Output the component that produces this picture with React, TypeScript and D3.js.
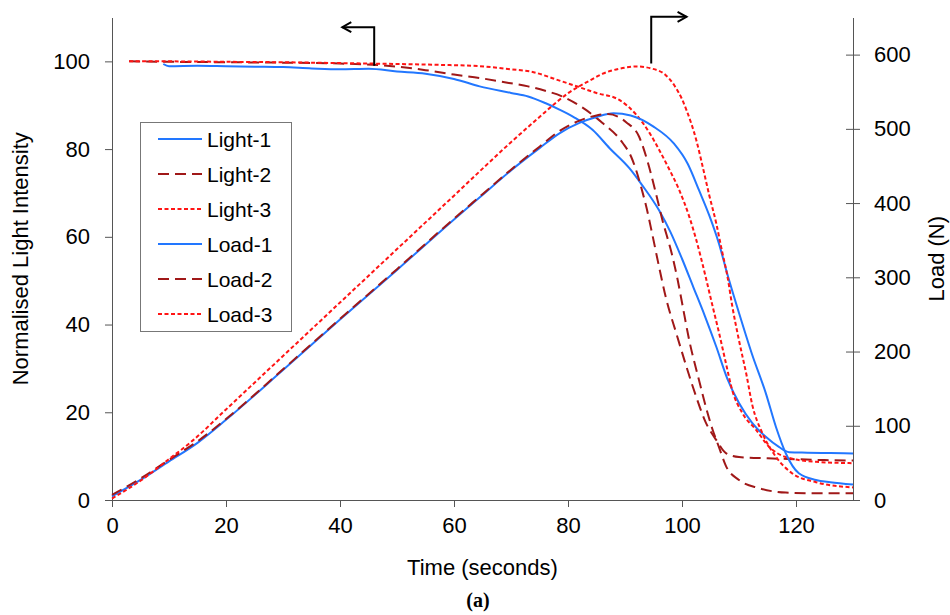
import React, { useEffect, useRef } from "react";
import * as d3 from "d3";

// tick values
const timeTicks = [0, 20, 40, 60, 80, 100, 120];
const lightTicks = [0, 20, 40, 60, 80, 100];
const loadTicks = [0, 100, 200, 300, 400, 500, 600];

// normalised light intensity (left axis)
const light1Time = [9, 10, 15, 20, 25, 30, 35, 40, 45, 50, 55, 60, 64.5, 70, 73, 76, 78.5, 81, 84.3, 87.3, 90.8, 93, 96, 98, 100, 102, 104, 106, 108, 110, 112.3, 114.7, 117, 118.8, 122, 126, 130];
const light1Value = [99.4, 98.9, 99.0, 98.9, 98.8, 98.7, 98.4, 98.2, 98.3, 97.7, 97.2, 96.0, 94.3, 92.8, 92.0, 90.5, 89.0, 87.3, 84.4, 80.2, 75.6, 71.8, 66, 61, 55, 48.5, 42, 35, 27.5, 22.1, 17.6, 14.4, 12.1, 10.9, 10.8, 10.7, 10.6];

const light2Time = [3, 10, 20, 30, 40, 50, 55, 60, 64.5, 70, 73, 76, 79, 82.5, 86, 89.6, 91.1, 92, 92.9, 93.8, 94.8, 96, 97.2, 99, 100.8, 102.5, 104.2, 106, 107.7, 110, 115, 120, 125, 130];
const light2Value = [100, 99.9, 99.8, 99.7, 99.5, 98.8, 98, 97, 96.2, 95, 94.3, 93.3, 92, 89.5, 86, 81.4, 78.2, 75, 71, 66.5, 60.5, 53, 46, 38, 30.3, 23.5, 17.6, 13.7, 10.7, 9.8, 9.5, 9.3, 9.1, 9.0];

const light3Time = [3, 10, 20, 30, 40, 50, 57.5, 64.5, 70, 73.3, 79, 85, 89, 92, 94.3, 96, 97.8, 99.5, 101.3, 102.5, 104.2, 105.4, 106.5, 107.7, 108.8, 110.6, 113, 115.3, 118.2, 123.5, 130];
const light3Value = [100, 100, 99.9, 99.8, 99.6, 99.4, 99.2, 98.9, 98.2, 97.7, 95.4, 92.8, 91.2, 87.8, 83.7, 79.8, 75.3, 70.7, 64.5, 59.3, 50.6, 44, 38.1, 31.2, 25.1, 19.8, 16, 12.1, 9.8, 8.7, 8.4];

// load in N (right axis)
const load1Time = [0, 5, 10, 15, 20, 30, 40, 50, 60, 65, 70, 75, 78.5, 82, 85, 88, 91, 95, 98.6, 101, 103, 104.8, 106.5, 108, 110, 112.3, 114.7, 116.5, 118.2, 120.5, 123.5, 126, 130];
const load1Value = [5, 27, 52, 77, 108, 175, 243, 310, 378, 411, 444, 474, 494, 508, 516, 521, 518, 503, 480, 453, 417, 383, 345, 303, 252, 196, 144, 98, 63, 36, 27, 24, 21];

const load2Time = [0, 5, 10, 15, 20, 30, 40, 50, 60, 65, 70, 75, 78.5, 82, 85, 87, 90.2, 92.5, 94, 95.2, 96.6, 98.2, 99.2, 100, 101.3, 103, 104.2, 105.4, 106.5, 107.7, 110, 113.5, 118.2, 124, 130];
const load2Value = [7, 29, 54, 79, 109, 176, 244, 311, 379, 412, 445, 476, 497, 511, 518, 520, 509, 489, 455, 420, 376, 332, 298, 266, 214, 161, 125, 94, 71, 46, 27, 16, 10, 9, 9];

const load3Time = [0, 5, 10, 14.3, 20, 30, 40, 50, 60, 70, 75, 78, 80, 83.8, 86, 89, 92, 94.8, 97.2, 98.7, 100, 100.8, 102.5, 103.6, 104.8, 106, 107, 108, 108.8, 110, 111.3, 112.3, 114.1, 116.5, 119.3, 123.5, 130];
const load3Value = [2, 26, 55, 81, 122, 194, 266, 338, 410, 482, 516, 536, 548, 565, 574, 581, 584, 581, 572, 558, 540, 525, 485, 450, 410, 373, 336, 300, 262, 215, 169, 129, 90, 58, 36, 24, 17];

const seriesNames = ["Light-1", "Light-2", "Light-3", "Load-1", "Load-2", "Load-3"];

const W = 950;
const H = 615;
const plotLeft = 112;
const plotRight = 853;
const plotTop = 17.5;
const plotBottom = 500;
const font = "'Liberation Sans', Arial, sans-serif";

const BLUE = "#2277ff";
const DARKRED = "#a01818";
const RED = "#ff1414";

export default function App() {
  const ref = useRef<SVGSVGElement>(null);

  useEffect(() => {
    const svg = d3.select(ref.current);
    svg.selectAll("*").remove();

    const x = d3.scaleLinear().domain([0, 130]).range([plotLeft, plotRight]);
    const yL = d3.scaleLinear().domain([0, 110]).range([plotBottom, plotTop]);
    const yR = d3.scaleLinear().domain([0, 650]).range([plotBottom, plotTop]);

    const styles = [
      { color: BLUE, dash: null },
      { color: DARKRED, dash: "11,6" },
      { color: RED, dash: "4,2.5" },
    ];

    const series = [
      { name: seriesNames[0], t: light1Time, v: light1Value, y: yL, style: styles[0] },
      { name: seriesNames[1], t: light2Time, v: light2Value, y: yL, style: styles[1] },
      { name: seriesNames[2], t: light3Time, v: light3Value, y: yL, style: styles[2] },
      { name: seriesNames[3], t: load1Time, v: load1Value, y: yR, style: styles[0] },
      { name: seriesNames[4], t: load2Time, v: load2Value, y: yR, style: styles[1] },
      { name: seriesNames[5], t: load3Time, v: load3Value, y: yR, style: styles[2] },
    ];

    const axisColor = "#555";

    // bottom axis
    const gx = svg.append("g")
      .attr("transform", `translate(0,${plotBottom})`)
      .call(d3.axisBottom(x).tickValues(timeTicks).tickSize(7).tickSizeOuter(0).tickPadding(10));

    // left axis
    const gl = svg.append("g")
      .attr("transform", `translate(${plotLeft},0)`)
      .call(d3.axisLeft(yL).tickValues(lightTicks).tickSize(7).tickSizeOuter(0).tickPadding(15));

    // right axis, ticks cross the line
    const gr = svg.append("g")
      .attr("transform", `translate(${plotRight},0)`)
      .call(d3.axisRight(yR).tickValues(loadTicks).tickSize(7).tickSizeOuter(0).tickPadding(14));
    gr.selectAll(".tick line").attr("x1", -7);

    [gx, gl, gr].forEach(g => {
      g.attr("font-family", font).attr("font-size", 22);
      g.selectAll("text").attr("fill", "#000");
      g.selectAll("line").attr("stroke", axisColor);
      g.select(".domain").attr("stroke", axisColor);
    });

    // data lines
    series.forEach(s => {
      const line = d3.line<number>()
        .x((d, i) => x(s.t[i]))
        .y(d => s.y(d))
        .curve(d3.curveMonotoneX);
      svg.append("path")
        .attr("d", line(s.v))
        .attr("fill", "none")
        .attr("stroke", s.style.color)
        .attr("stroke-width", 2)
        .attr("stroke-dasharray", s.style.dash);
    });

    // arrows pointing to the axes
    const arrows = svg.append("g").attr("stroke", "#000").attr("stroke-width", 2).attr("fill", "none");
    const lx = x(46), ly = yL(107.8), lTip = x(40.4);
    arrows.append("path").attr("d", `M${lx},${yL(99)}V${ly}H${lTip}`);
    arrows.append("path").attr("d", `M${lTip + 9},${ly - 5}L${lTip},${ly}L${lTip + 9},${ly + 5}`);
    const rx = x(94.6), ry = yR(651), rTip = x(100.8);
    arrows.append("path").attr("d", `M${rx},${yR(588)}V${ry}H${rTip}`);
    arrows.append("path").attr("d", `M${rTip - 9},${ry - 5}L${rTip},${ry}L${rTip - 9},${ry + 5}`);

    // legend
    const lg = svg.append("g").attr("font-family", font).attr("font-size", 21);
    lg.append("rect")
      .attr("x", 140.5).attr("y", 122.5)
      .attr("width", 151).attr("height", 209)
      .attr("fill", "#fff").attr("stroke", "#777");
    series.forEach((s, i) => {
      const cy = 139 + i * 35;
      lg.append("line")
        .attr("x1", 158).attr("x2", 202).attr("y1", cy).attr("y2", cy)
        .attr("stroke", s.style.color).attr("stroke-width", 2)
        .attr("stroke-dasharray", s.style.dash);
      lg.append("text").attr("x", 207).attr("y", cy + 7.5).text(s.name);
    });

    // titles
    svg.append("text")
      .attr("x", (plotLeft + plotRight) / 2).attr("y", 575)
      .attr("text-anchor", "middle").attr("font-family", font).attr("font-size", 22)
      .text("Time (seconds)");
    svg.append("text")
      .attr("transform", `translate(28,${(plotTop + plotBottom) / 2}) rotate(-90)`)
      .attr("text-anchor", "middle").attr("font-family", font).attr("font-size", 22)
      .text("Normalised Light Intensity");
    svg.append("text")
      .attr("transform", `translate(944,${(plotTop + plotBottom) / 2}) rotate(-90)`)
      .attr("text-anchor", "middle").attr("font-family", font).attr("font-size", 22)
      .text("Load (N)");
    svg.append("text")
      .attr("x", 478).attr("y", 607)
      .attr("text-anchor", "middle").attr("font-family", "'Liberation Serif', 'Times New Roman', serif")
      .attr("font-weight", "bold").attr("font-size", 20)
      .text("(a)");
  }, []);

  return (
    <svg
      ref={ref}
      width={W}
      height={H}
      style={{ position: "absolute", left: 0, top: 0, background: "#fff" }}
    />
  );
}
